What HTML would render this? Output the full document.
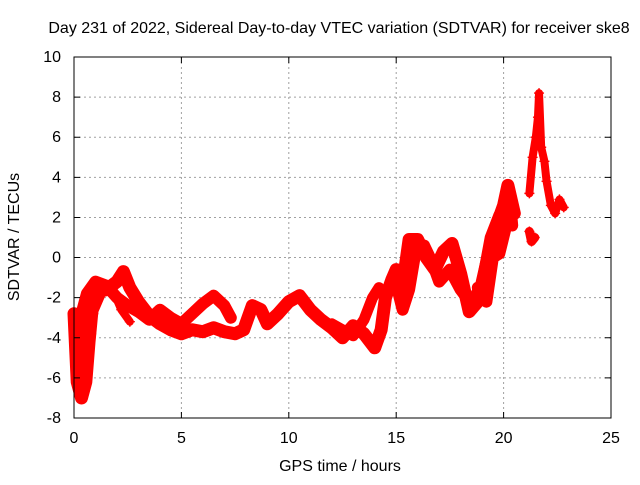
<!DOCTYPE html>
<html><head><meta charset="utf-8"><style>
body{margin:0;background:#fff}
svg text{font-family:"Liberation Sans",sans-serif;font-size:16px;fill:#000}
</style></head><body>
<svg width="640" height="480" viewBox="0 0 640 480">
<rect width="640" height="480" fill="#fff"/>
<g id="grid"></g>
<g id="series"></g>
<rect x="74" y="57" width="537" height="361" fill="none" stroke="#000" stroke-width="1"/>
<g id="ticks"></g>
<text x="339" y="33" text-anchor="middle">Day 231 of 2022, Sidereal Day-to-day VTEC variation (SDTVAR) for receiver ske8</text>
<text x="340" y="471" text-anchor="middle">GPS time / hours</text>
<text transform="translate(19,237) rotate(-90)" text-anchor="middle">SDTVAR / TECUs</text>
</svg>
<script>
const xTicks=[0,5,10,15,20,25];
const yTicks=[-8,-6,-4,-2,0,2,4,6,8,10];
const trackMain=[[0,-2.8],[0.15,-6.2],[0.35,-7.0],[0.55,-6.2],[0.7,-4.2],[0.85,-2.5],[1.1,-1.4],[1.5,-1.6],[2.0,-1.2],[2.3,-0.7],[2.6,-1.5],[3.0,-2.2],[3.5,-2.9],[4,-3.3],[4.5,-3.6],[5,-3.8],[5.5,-3.6],[6,-3.7],[6.5,-3.5],[7,-3.7],[7.5,-3.8],[7.9,-3.6],[8.3,-2.4],[8.7,-2.6],[9,-3.3],[9.5,-2.8],[10,-2.2],[10.5,-1.9],[11,-2.6],[11.5,-3.1],[12,-3.5],[12.5,-4.0],[13,-3.4],[13.5,-3.8],[14,-4.5],[14.3,-3.6],[14.5,-2],[14.8,-1.1],[15,-0.6],[15.3,-1.4],[15.6,0.9],[16,0.9],[16.4,0],[16.8,-0.6],[17.2,0.3],[17.6,0.7],[18,-0.8],[18.4,-2.7],[18.8,-2.2],[19.2,-0.3],[19.6,1.4],[20,2.6],[20.2,3.6],[20.5,2.2]];
const trackUpper=[[0.25,-3.2],[0.6,-1.8],[1,-1.2],[1.5,-1.4],[2,-2],[2.5,-2.4],[3,-2.7],[3.5,-3.1],[4,-2.6],[4.5,-3],[5,-3.3],[5.5,-2.8],[6,-2.3],[6.5,-1.9],[7,-2.4],[7.3,-3]];
const trackEarly=[[0.2,-4.5],[0.4,-3.5],[0.6,-5.2],[0.8,-3.8],[0.9,-2.8],[1.3,-1.8],[1.8,-1.6],[2.2,-2.6],[2.6,-3.2]];
const trackMid=[[12,-3.3],[12.5,-3.6],[13,-3.9],[13.5,-3.1],[13.9,-2],[14.2,-1.5]];
const trackLate=[[15,-1.3],[15.3,-2.6],[15.6,-1.6],[15.9,0.3],[16.3,0.6],[16.7,-0.3],[17,-1.2],[17.5,-0.6],[18,-1.6],[18.5,-2.3],[19,-1.3],[19.4,1],[19.8,2.1],[20.2,2.6]];
const trackRise=[[18.8,-1.5],[19.2,-2.2],[19.5,0],[19.8,0.2],[20.1,1.5],[20.3,2.8],[20.4,1.6]];
const trackPeak=[[21.2,1.3],[21.3,0.8],[21.45,1.0]];
const trackTop=[[21.2,3.2],[21.35,5],[21.5,6.0],[21.6,7.0],[21.65,8.2],[21.75,5.5],[21.9,4.8],[22,3.8],[22.2,2.6],[22.4,2.2],[22.6,2.9],[22.8,2.5]];
const X=t=>74+t*537/25, Y=v=>418-(v+8)*361/18;
const ns='http://www.w3.org/2000/svg';
function mk(tag,at,parent){const e=document.createElementNS(ns,tag);for(const k in at)e.setAttribute(k,at[k]);parent.appendChild(e);return e;}
const grid=document.getElementById('grid'),ticks=document.getElementById('ticks'),ser=document.getElementById('series');
xTicks.forEach(t=>{
 if(t>0&&t<25){const g=mk('line',{x1:X(t),x2:X(t),y1:57,y2:418,stroke:'#a0a0a0','stroke-dasharray':'2,3'},grid);
 
 }
 const a=mk('path',{d:`M${X(t)} 418v-6M${X(t)} 57v6`,stroke:'#000'},ticks);
 
 
 const l=mk('text',{x:X(t),y:443,'text-anchor':'middle'},ticks);l.textContent=t;
 
 
});
yTicks.forEach(v=>{
 if(v>-8&&v<10){const g=mk('line',{x1:74,x2:611,y1:Y(v),y2:Y(v),stroke:'#a0a0a0','stroke-dasharray':'2,3'},grid);
 
 }
 const a=mk('path',{d:`M74 ${Y(v)}h6M611 ${Y(v)}h-6`,stroke:'#000'},ticks);
 
 
 const l=mk('text',{x:61,y:Y(v)+5,'text-anchor':'end'},ticks);l.textContent=v;
 
 
});
const tracks=[trackMain,trackUpper,trackEarly,trackMid,trackLate,trackRise,trackPeak,trackTop];
const widths=[13,12,8,11,12,12,9,8];
tracks.forEach((tr,i)=>{
 const p=mk('polyline',{points:tr.map(d=>X(d[0])+','+Y(d[1])).join(' '),fill:'none',stroke:'#ff0000','stroke-width':widths[i],'stroke-linejoin':'round','stroke-linecap':'round'},ser);
 
 
 tr.forEach(d=>{const m=mk('path',{d:`M${X(d[0])-5} ${Y(d[1])}h10M${X(d[0])} ${Y(d[1])-5}v10`,stroke:'#ff0000','stroke-width':1.4},ser);
 
 });
});
</script>
</body></html>
